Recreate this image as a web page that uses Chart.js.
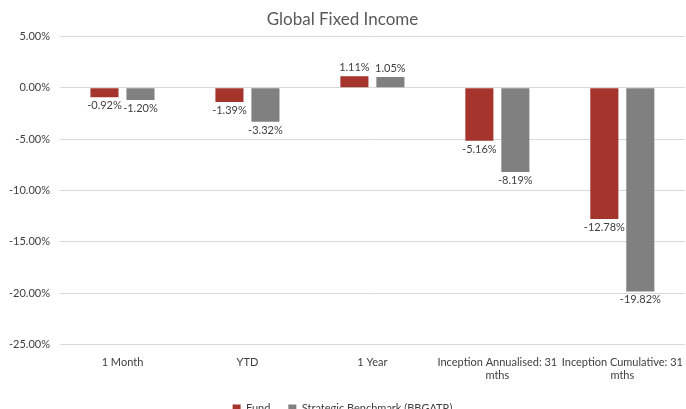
<!DOCTYPE html>
<html>
<head>
<meta charset="utf-8">
<script src="https://cdn.jsdelivr.net/npm/chart.js@4/dist/chart.umd.min.js"></script>
<style>
  html, body { margin: 0; padding: 0; background: #fff; }
  #wrap { width: 686px; height: 409px; }
</style>
</head>
<body>
<div id="wrap"><canvas id="chart"></canvas></div>
<script>
// chart data
const categories = [
  "1 Month",
  "YTD",
  "1 Year",
  ["Inception Annualised: 31", "mths"],
  ["Inception Cumulative: 31", "mths"],
];
const fundValues = [-0.92, -1.39, 1.11, -5.16, -12.78];
const benchmarkValues = [-1.2, -3.32, 1.05, -8.19, -19.82];
const yTicks = [5, 0, -5, -10, -15, -20, -25];

const FONT = "Lato, 'Open Sans', sans-serif";

// draws the value labels above / below each bar
const barLabels = {
  id: "barLabels",
  afterDatasetsDraw(chart) {
    const ctx = chart.ctx;
    ctx.save();
    ctx.font = "11px " + FONT;
    ctx.fillStyle = "#404040";
    ctx.textAlign = "center";
    chart.data.datasets.forEach((ds, i) => {
      const meta = chart.getDatasetMeta(i);
      meta.data.forEach((bar, j) => {
        const v = ds.data[j];
        const text = v.toFixed(2) + "%";
        if (v >= 0) {
          ctx.textBaseline = "bottom";
          ctx.fillText(text, bar.x, bar.y - 3);
        } else {
          ctx.textBaseline = "top";
          ctx.fillText(text, bar.x, bar.y + 3);
        }
      });
    });
    ctx.restore();
  },
};

new Chart(document.getElementById("chart"), {
  type: "bar",
  data: {
    labels: categories,
    datasets: [
      {
        label: "Fund",
        data: fundValues,
        backgroundColor: "#A5342C",
        borderWidth: 0,
        categoryPercentage: 0.576,
        barPercentage: 0.78,
      },
      {
        label: "Strategic Benchmark (BBGATR)",
        data: benchmarkValues,
        backgroundColor: "#808080",
        borderWidth: 0,
        categoryPercentage: 0.576,
        barPercentage: 0.78,
      },
    ],
  },
  options: {
    responsive: true,
    maintainAspectRatio: false,
    animation: false,
    layout: { padding: { left: 0, right: 1, top: 7, bottom: -15 } },
    plugins: {
      title: {
        display: true,
        text: "Global Fixed Income",
        color: "#595959",
        font: { family: FONT, size: 17, weight: "normal" },
        padding: { top: 2, bottom: 7 },
      },
      legend: {
        position: "bottom",
        labels: {
          color: "#404040",
          font: { family: FONT, size: 11 },
          boxWidth: 8,
          boxHeight: 8,
          padding: 18,
        },
      },
      tooltip: { enabled: false },
    },
    scales: {
      x: {
        grid: { display: false },
        border: { display: false },
        ticks: {
          color: "#404040",
          font: { family: FONT, size: 11 },
          maxRotation: 0,
          autoSkip: false,
        },
      },
      y: {
        min: -25,
        max: 5,
        afterBuildTicks(scale) {
          scale.ticks = yTicks.map((v) => ({ value: v }));
        },
        afterFit(scale) {
          scale.width = 60;
        },
        grid: { color: "#d9d9d9", lineWidth: 1, drawTicks: false },
        border: { display: false },
        ticks: {
          color: "#404040",
          font: { family: FONT, size: 11 },
          padding: 10,
          callback: (v) => v.toFixed(2) + "%",
        },
      },
    },
  },
  plugins: [barLabels],
});
</script>
</body>
</html>
